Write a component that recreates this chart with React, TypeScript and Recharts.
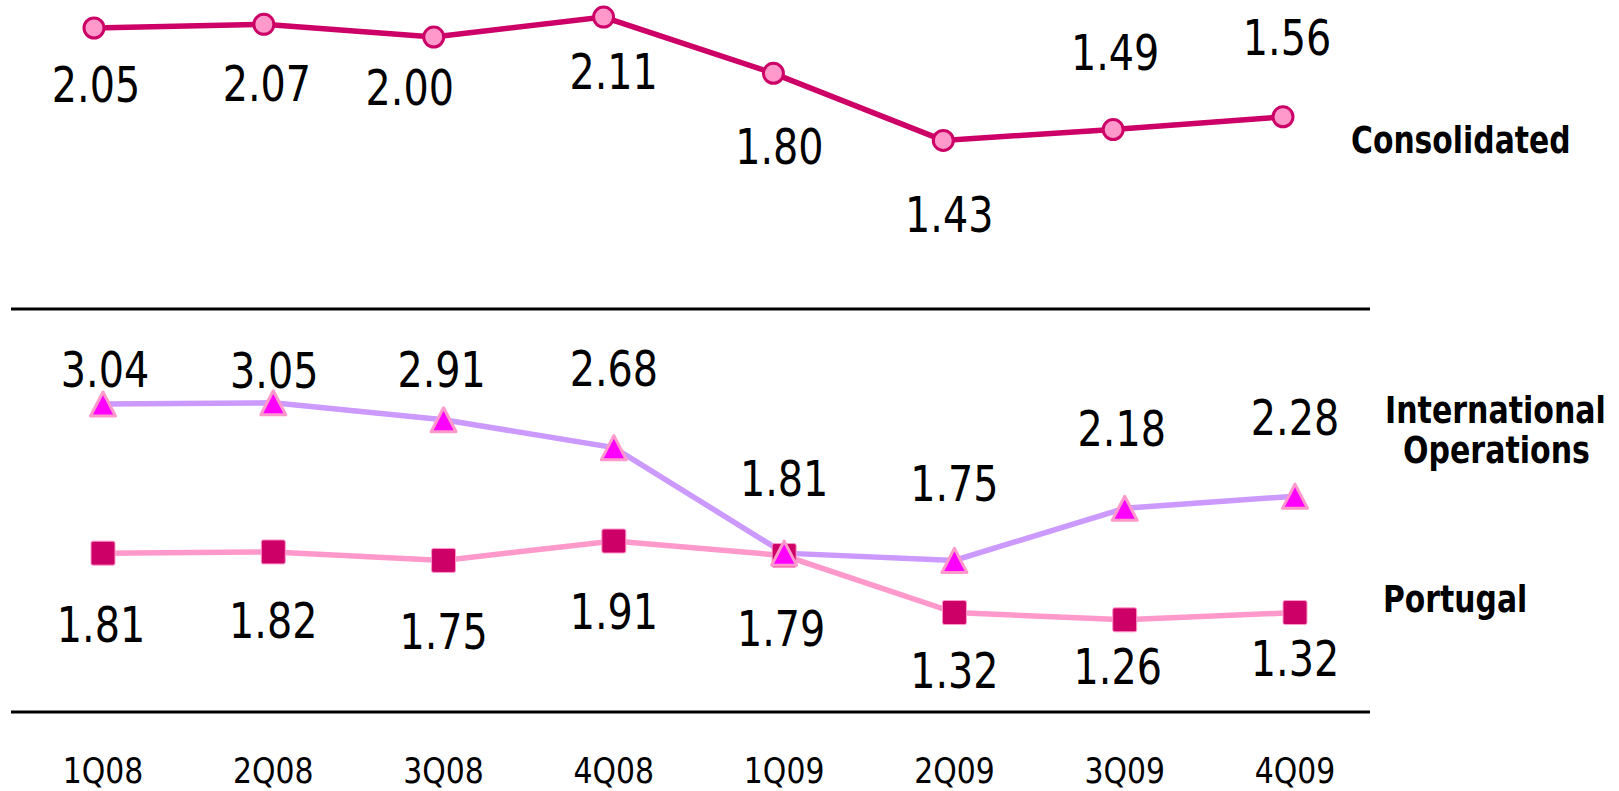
import { LineChart, Line, XAxis, YAxis, LabelList } from "recharts";

const quarters = ["1Q08", "2Q08", "3Q08", "4Q08", "1Q09", "2Q09", "3Q09", "4Q09"];
const consolidated = [2.05, 2.07, 2.0, 2.11, 1.8, 1.43, 1.49, 1.56];
const international = [3.04, 3.05, 2.91, 2.68, 1.81, 1.75, 2.18, 2.28];
const portugal = [1.81, 1.82, 1.75, 1.91, 1.79, 1.32, 1.26, 1.32];

const data = quarters.map((q, i) => ({
  q,
  consolidated: consolidated[i],
  international: international[i],
  portugal: portugal[i],
}));

// label placement (dx, dy of the label centre from its point), as hand-placed in the original
const consOffsets = [[2, 56], [3, 59], [-24, 50], [10, 54], [6, 73], [6, 74], [2, -78], [4, -80]];
const intlOffsets = [[2, -35], [1, -33], [-2, -51], [0, -80], [0, -75], [0, -77], [-3, -80], [0, -79]];
const portOffsets = [[-2, 71], [0, 68], [0, 71], [0, 70], [-3, 72], [0, 57], [-7, 46], [0, 45]];

const FONT = "DejaVu Sans";

const makeLabel = (offsets: number[][]) => (props: any) => {
  const { x, y, value, index } = props;
  const [dx, dy] = offsets[index] || [0, 0];
  return (
    <text
      key={index}
      transform={`translate(${x + dx},${y + dy + 18}) scale(0.81,1)`}
      textAnchor="middle"
      fontFamily={FONT}
      fontSize={49}
      fill="#000"
    >
      {Number(value).toFixed(2)}
    </text>
  );
};

const CircleDot = (p: any) => (
  <circle key={p.index} cx={p.cx} cy={p.cy} r={10} fill="#FF99CC" stroke="#CC0066" strokeWidth={3} />
);

const TriangleDot = (p: any) => {
  const { cx, cy } = p;
  return (
    <polygon
      key={p.index}
      points={`${cx},${cy - 12} ${cx + 12.5},${cy + 12} ${cx - 12.5},${cy + 12}`}
      fill="#FF00FF"
      stroke="#FF99CC"
      strokeWidth={3}
      strokeLinejoin="round"
    />
  );
};

const SquareDot = (p: any) => (
  <rect key={p.index} x={p.cx - 12} y={p.cy - 12} width={24} height={24} rx={2} fill="#CC0066" stroke="#FF99CC" strokeWidth={1} />
);

const QuarterTick = (props: any) => {
  const { x, y, payload } = props;
  return (
    <text
      transform={`translate(${x},${y + 63}) scale(0.83,1)`}
      textAnchor="middle"
      fontFamily={FONT}
      fontSize={36}
      fill="#000"
    >
      {payload.value}
    </text>
  );
};

const nameStyle = { fontFamily: FONT, fontWeight: 700, fontSize: 38, fill: "#000" } as const;

export default function App() {
  return (
    <div style={{ position: "absolute", left: 0, top: 0, width: 1619, height: 791, background: "#fff" }}>
      <div style={{ position: "absolute", left: 0, top: 0 }}>
        <LineChart width={1619} height={320} data={data} margin={{ top: 0.8, right: 249, bottom: 8, left: 11 }}>
          <XAxis
            dataKey="q"
            scale="point"
            padding={{ left: 83, right: 87 }}
            tick={false}
            tickLine={false}
            height={3}
            axisLine={{ stroke: "#000", strokeWidth: 3 }}
          />
          <YAxis hide domain={[0.5, 2.2]} />
          <Line
            dataKey="consolidated"
            stroke="#CC0066"
            strokeWidth={5.5}
            dot={CircleDot}
            activeDot={false}
            isAnimationActive={false}
          >
            <LabelList dataKey="consolidated" content={makeLabel(consOffsets)} />
          </Line>
        </LineChart>
      </div>
      <div style={{ position: "absolute", left: 0, top: 0 }}>
        <LineChart width={1619} height={791} data={data} margin={{ top: 348.2, right: 249, bottom: 0, left: 11 }}>
          <XAxis
            dataKey="q"
            scale="point"
            padding={{ left: 92, right: 75 }}
            tick={<QuarterTick />}
            tickLine={false}
            height={79}
            interval={0}
            axisLine={{ stroke: "#000", strokeWidth: 3 }}
          />
          <YAxis hide domain={[0.5, 3.5]} />
          <Line
            dataKey="portugal"
            stroke="#FF99CC"
            strokeWidth={5.5}
            dot={SquareDot}
            activeDot={false}
            isAnimationActive={false}
          >
            <LabelList dataKey="portugal" content={makeLabel(portOffsets)} />
          </Line>
          <Line
            dataKey="international"
            stroke="#CC99FF"
            strokeWidth={5.5}
            dot={TriangleDot}
            activeDot={false}
            isAnimationActive={false}
          >
            <LabelList dataKey="international" content={makeLabel(intlOffsets)} />
          </Line>
        </LineChart>
      </div>
      <svg width={1619} height={791} style={{ position: "absolute", left: 0, top: 0, pointerEvents: "none" }}>
        <text transform="translate(1351,153) scale(0.785,1)" {...nameStyle}>Consolidated</text>
        <text transform="translate(1385,423) scale(0.79,1)" {...nameStyle}>International</text>
        <text transform="translate(1403,463) scale(0.79,1)" {...nameStyle}>Operations</text>
        <text transform="translate(1383,612) scale(0.785,1)" {...nameStyle}>Portugal</text>
      </svg>
    </div>
  );
}
